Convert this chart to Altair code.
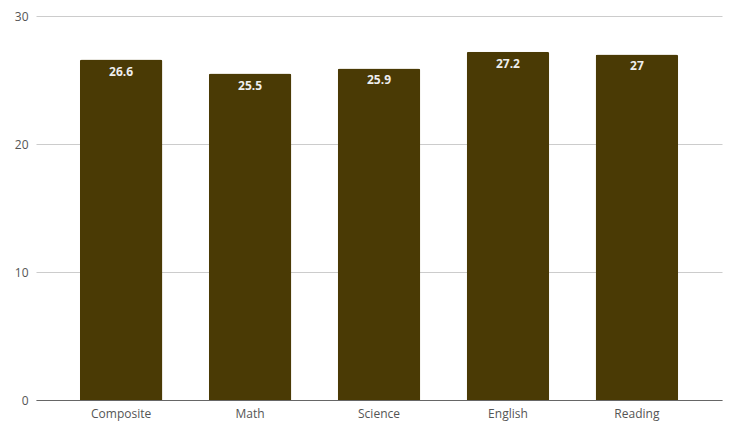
import altair as alt
import pandas as pd

subjects = ["Composite", "Math", "Science", "English", "Reading"]
scores = [26.6, 25.5, 25.9, 27.2, 27]
labels = ["26.6", "25.5", "25.9", "27.2", "27"]

df = pd.DataFrame({"subject": subjects, "score": scores, "label": labels})

x = alt.X("subject:N", sort=subjects, title=None,
          scale=alt.Scale(paddingInner=0.36, paddingOuter=0.34),
          axis=alt.Axis(labelAngle=0, ticks=False, domainColor="#666666",
                        labelColor="#555555", labelFontSize=12, labelPadding=8,
                        labelFont="Open Sans"))
y = alt.Y("score:Q", title=None,
          scale=alt.Scale(domain=[0, 30]),
          axis=alt.Axis(values=[0, 10, 20, 30], ticks=False, domain=False,
                        gridColor="#cccccc", labelColor="#555555", labelFontSize=12,
                        labelPadding=8, labelFont="Open Sans"))

bars = alt.Chart(df).mark_bar(color="#4a3a05", cornerRadiusTopLeft=2,
                              cornerRadiusTopRight=2).encode(x=x, y=y)
text = alt.Chart(df).mark_text(color="#eeeeee", fontSize=12, fontWeight="bold",
                               baseline="top", dy=7, font="Open Sans").encode(
    x=alt.X("subject:N", sort=subjects), y="score:Q", text="label:N")

chart = (bars + text).properties(
    width=686, height=384,
    autosize=alt.AutoSizeParams(type="none"),
    padding={"left": 36, "top": 16, "right": 13, "bottom": 27},
).configure(background="white").configure_view(strokeWidth=0, stroke="transparent")

chart.save("out.html", embed_options={"renderer": "svg", "actions": False})
